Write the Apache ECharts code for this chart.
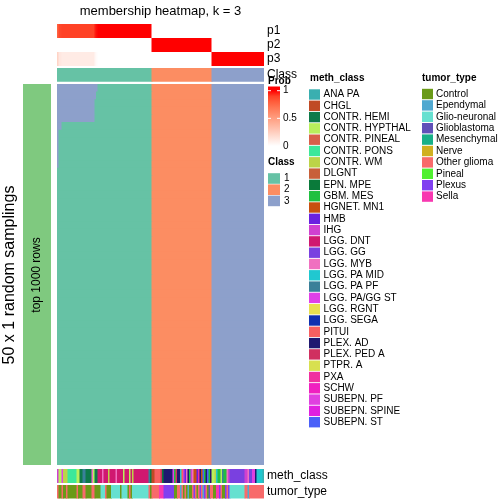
<!DOCTYPE html>
<html><head><meta charset="utf-8">
<script src="https://cdn.jsdelivr.net/npm/echarts@6/dist/echarts.min.js"></script>
<style>html,body{margin:0;padding:0;background:#fff}#c{width:504px;height:504px}</style>
</head><body><div id="c"></div>
<script>
// ---------------- data ----------------
const titleText = 'membership heatmap, k = 3';
const nSamplings = 50;
const classNames = ['1', '2', '3'];
const classColors = ['#66c2a5', '#fc8d62', '#8da0cb'];
const classCounts = [63, 40, 35];            // samples per consensus class (ordered)
// number of top samplings (rows) in which the first class-1 samples were put in class 3
const class3TopRows = [11, 6, 6, 5, 5, 5, 5, 5, 5, 5, 5, 5, 5, 5, 5, 5, 5, 5, 5, 5, 5, 5, 5, 5, 5, 2, 1];
const probLabels = ['p1', 'p2', 'p3'];
const probTicks = [1, 0.5, 0];
const probStops = ['#ffffff', '#ffebe5', '#ffd8cb', '#ffc4b2', '#ffb199', '#ff9e81', '#ff8a69', '#ff7552', '#ff5d3b', '#ff4226', '#ff0000'];

const methNames = ['ANA PA', 'CHGL', 'CONTR. HEMI', 'CONTR. HYPTHAL', 'CONTR. PINEAL', 'CONTR. PONS', 'CONTR. WM', 'DLGNT', 'EPN. MPE', 'GBM. MES', 'HGNET. MN1', 'HMB', 'IHG', 'LGG. DNT', 'LGG. GG', 'LGG. MYB', 'LGG. PA MID', 'LGG. PA PF', 'LGG. PA/GG ST', 'LGG. RGNT', 'LGG. SEGA', 'PITUI', 'PLEX. AD', 'PLEX. PED A', 'PTPR. A', 'PXA', 'SCHW', 'SUBEPN. PF', 'SUBEPN. SPINE', 'SUBEPN. ST'];
const methColors = ['#3aafb0', '#c04a25', '#0e7a4a', '#b8f05c', '#d8604a', '#3de89a', '#bcd448', '#c8603a', '#0a7a3a', '#20c040', '#c85010', '#6a20e0', '#d040d0', '#d01870', '#7a40e0', '#f070c0', '#20c8d0', '#3a8099', '#e040e8', '#e8e050', '#1030b0', '#f86060', '#201870', '#d03060', '#d8e050', '#f030a0', '#f020c0', '#e040e0', '#e020e0', '#4a60f8'];
const tumorNames = ['Control', 'Ependymal', 'Glio-neuronal', 'Glioblastoma', 'Mesenchymal', 'Nerve', 'Other glioma', 'Pineal', 'Plexus', 'Sella'];
const tumorColors = ['#6a9a18', '#50a8d0', '#66e0d0', '#6050b8', '#18b088', '#d0b020', '#f86a6a', '#50f030', '#8040f0', '#f838b0'];

// run-length lists of the bottom annotations, left to right
const methRuns = [
  ['IHG',1],['CONTR. HYPTHAL',2],['LGG. PA/GG ST',1],['CONTR. WM',3],['CONTR. PONS',6],['CONTR. HYPTHAL',2],['CONTR. HEMI',2],['LGG. PA PF',2],['CONTR. HEMI',4],['LGG. MYB',1],['CONTR. HYPTHAL',1],['CONTR. HEMI',2],['LGG. DNT',3],['LGG. MYB',1],['LGG. DNT',3],['CONTR. WM',1],['LGG. DNT',4],['LGG. MYB',1],['LGG. DNT',4],['CONTR. HYPTHAL',1],['LGG. DNT',3],['CONTR. HYPTHAL',1],['LGG. DNT',1],['CONTR. WM',1],['LGG. DNT',10],['LGG. PA PF',1],['CONTR. HEMI',1],
  ['CHGL',2],['PITUI',4],['PLEX. PED A',1],['EPN. MPE',1],['PLEX. AD',6],['LGG. PA/GG ST',1],['GBM. MES',1],['PLEX. PED A',1],['PLEX. AD',2],['LGG. PA MID',1],['PITUI',1],['IHG',1],['HMB',1],['LGG. MYB',1],['PLEX. AD',1],['GBM. MES',1],['IHG',1],['LGG. MYB',1],['HGNET. MN1',2],['HMB',1],['PXA',1],['PLEX. AD',1],['HGNET. MN1',1],['SUBEPN. ST',1],['GBM. MES',1],['PLEX. AD',1],['SUBEPN. ST',1],['GBM. MES',1],['PLEX. AD',1],
  ['CONTR. HYPTHAL',2],['CONTR. WM',1],['LGG. PA MID',1],['GBM. MES',2],['CONTR. HYPTHAL',1],['LGG. PA PF',1],['GBM. MES',2],['LGG. MYB',1],['IHG',1],['LGG. GG',10],['IHG',2],['LGG. MYB',1],['LGG. GG',2],['SUBEPN. PF',2],['PLEX. AD',1],['LGG. PA MID',4],['ANA PA',1]
];
const tumorRuns = [
  ['Other glioma',1],['Control',2],['Other glioma',1],['Control',2],['Other glioma',1],['Control',6],['Other glioma',1],['Control',3],['Other glioma',2],['Control',4],['Other glioma',2],['Control',4],['Glio-neuronal',3],['Other glioma',1],['Control',3],['Glio-neuronal',6],['Control',1],['Glio-neuronal',4],['Control',1],['Other glioma',1],['Control',1],['Glio-neuronal',11],['Other glioma',1],['Control',1],
  ['Other glioma',5],['Sella',3],['Plexus',7],['Control',2],['Other glioma',2],['Ependymal',1],['Other glioma',1],['Control',1],['Other glioma',1],['Control',1],['Ependymal',1],['Control',2],['Other glioma',1],['Plexus',1],['Other glioma',1],['Control',1],['Other glioma',1],['Plexus',1],['Other glioma',1],['Ependymal',1],['Plexus',1],['Other glioma',1],['Control',1],['Glioblastoma',1],['Other glioma',1],
  ['Other glioma',1],['Control',2],['Sella',2],['Plexus',1],['Other glioma',1],['Control',2],['Plexus',1],['Other glioma',1],['Plexus',1],['Glio-neuronal',10],['Other glioma',2],['Ependymal',1],['Other glioma',10]
];

// ---------------- derived tables ----------------
function expand(runs) { const o = []; runs.forEach(([n, c]) => { for (let j = 0; j < c; j++) o.push(n); }); return o; }
const sampleClass = [];
classCounts.forEach((c, k) => { for (let j = 0; j < c; j++) sampleClass.push(k + 1); });
const N = sampleClass.length;
const methPerSample = expand(methRuns);
const tumorPerSample = expand(tumorRuns);
const membership = []; // [row][sample]
for (let r = 0; r < nSamplings; r++) {
  const row = [];
  for (let i = 0; i < N; i++) row.push(i < class3TopRows.length && r < class3TopRows[i] ? 3 : sampleClass[i]);
  membership.push(row);
}
const probRows = [[], [], []];
for (let i = 0; i < N; i++) {
  for (let k = 1; k <= 3; k++) {
    let cnt = 0; for (let r = 0; r < nSamplings; r++) if (membership[r][i] === k) cnt++;
    probRows[k - 1].push(cnt / nSamplings);
  }
}
// merge equal neighbouring cells of a row into [startSample, endSample, row, value]
function runsOf(values, row) {
  const out = []; let s = 0;
  for (let i = 1; i <= values.length; i++) {
    if (i === values.length || values[i] !== values[s]) { out.push([s, i - 1, row, values[s]]); s = i; }
  }
  return out;
}
const probData = [].concat(...probRows.map((v, k) => runsOf(v, k)));
const classData = runsOf(sampleClass.map(c => c - 1), 0);
const mainData = [].concat(...membership.map((row, r) => runsOf(row.map(c => c - 1), r)));
const methData = runsOf(methPerSample.map(m => methNames.indexOf(m)), 0);
const tumorData = runsOf(tumorPerSample.map(t => tumorNames.indexOf(t)), 0);

// ---------------- chart ----------------
const FONT = '"Liberation Sans", Arial, Helvetica, sans-serif';
const xCats = Array.from({ length: N }, (_, i) => i);
const rowCats = Array.from({ length: nSamplings }, (_, i) => i);

function rectRender(colorFn) {
  return function (params, api) {
    const cs = params.coordSys;
    const a = api.coord([api.value(0), api.value(2)]);
    const b = api.coord([api.value(1), api.value(2)]);
    const s = api.size([1, 1]);
    const x0 = a[0] - s[0] / 2;
    const x1 = Math.min(b[0] + s[0] / 2 + 1, cs.x + cs.width);
    const y0 = a[1] - s[1] / 2;
    const y1 = Math.min(a[1] + s[1] / 2 + 1, cs.y + cs.height);
    return { type: 'rect', shape: { x: x0, y: y0, width: x1 - x0, height: y1 - y0 },
      style: { fill: colorFn(api) } };
  };
}
function cellSeries(idx, data, colorFn) {
  return { type: 'custom', xAxisIndex: idx, yAxisIndex: idx, data: data, renderItem: rectRender(colorFn),
    encode: { x: [0, 1], y: 2 }, progressive: 0, silent: true, animation: false };
}
const L = 57, W = 207;
const grids = [
  { left: L, top: 24, width: W, height: 42 },
  { left: L, top: 68, width: W, height: 13.7 },
  { left: L, top: 84, width: W, height: 381 },
  { left: L, top: 469, width: W, height: 14 },
  { left: L, top: 485, width: W, height: 13.5 },
  { left: 23, top: 84, width: 28, height: 381 }
];
const rightLabel = { show: true, interval: 0, margin: 3, fontSize: 12, color: '#000', fontFamily: FONT };
const xAxes = grids.map((g, i) => ({ type: 'category', gridIndex: i, data: i < 5 ? xCats : ['top 1000 rows'], show: false }));
const yAxes = [
  { type: 'category', gridIndex: 0, data: probLabels, inverse: true, position: 'right', axisLine: { show: false }, axisTick: { show: false }, axisLabel: rightLabel },
  { type: 'category', gridIndex: 1, data: ['Class'], position: 'right', axisLine: { show: false }, axisTick: { show: false }, axisLabel: rightLabel },
  { type: 'category', gridIndex: 2, data: rowCats, inverse: true, show: false },
  { type: 'category', gridIndex: 3, data: ['meth_class'], position: 'right', axisLine: { show: false }, axisTick: { show: false }, axisLabel: rightLabel },
  { type: 'category', gridIndex: 4, data: ['tumor_type'], position: 'right', axisLine: { show: false }, axisTick: { show: false }, axisLabel: rightLabel },
  { type: 'category', gridIndex: 5, data: [0], show: false }
];
const series = [
  cellSeries(0, probData, api => api.visual('color')),
  cellSeries(1, classData, api => classColors[api.value(3)]),
  cellSeries(2, mainData, api => classColors[api.value(3)]),
  cellSeries(3, methData, api => methColors[api.value(3)]),
  cellSeries(4, tumorData, api => tumorColors[api.value(3)]),
  cellSeries(5, [[0, 0, 0, 0]], () => '#7fc97f')
];

// legends (graphics)
const gfx = [];
function txt(x, y, s, o) {
  gfx.push(Object.assign({ type: 'text', x: x, y: y, silent: true, z: 10,
    style: Object.assign({ text: s, fontFamily: FONT, fontSize: 10, fill: '#000', textAlign: 'left', textVerticalAlign: 'middle' }, o || {}) }));
}
function box(x, y, w, h, fill) { gfx.push({ type: 'rect', shape: { x: x, y: y, width: w, height: h }, style: { fill: fill }, silent: true, z: 10 }); }
txt(160.5, 11, titleText, { fontSize: 13, textAlign: 'center' });
gfx.push({ type: 'text', x: 10, y: 275, rotation: Math.PI / 2, silent: true,
  style: { text: '50 x 1 random samplings', fontFamily: FONT, fontSize: 16, fill: '#000', textAlign: 'center', textVerticalAlign: 'middle' } });
gfx.push({ type: 'text', x: 37, y: 275, rotation: Math.PI / 2, silent: true, z: 10,
  style: { text: 'top 1000 rows', fontFamily: FONT, fontSize: 12, fill: '#000', textAlign: 'center', textVerticalAlign: 'middle' } });

// Prob colour bar
const barTop = 86.5, barH = 60, v1y = 90.7, v0y = 146;
const gradStops = [{ offset: 0, color: probStops[probStops.length - 1] }];
probStops.forEach((c, j) => {
  const v = j / (probStops.length - 1);
  const y = v0y - v * (v0y - v1y);
  gradStops.push({ offset: Math.min(1, Math.max(0, (y - barTop) / barH)), color: c });
});
gradStops.sort((a, b) => a.offset - b.offset);
gfx.push({ type: 'rect', shape: { x: 268, y: barTop, width: 12, height: barH }, silent: true, z: 10,
  style: { fill: new echarts.graphic.LinearGradient(0, 0, 0, 1, gradStops) } });
probTicks.forEach(v => {
  const y = v0y - v * (v0y - v1y);
  txt(283, y, String(v));
  if (v > 0) {
    gfx.push({ type: 'line', shape: { x1: 268, y1: y, x2: 271, y2: y }, style: { stroke: '#fff', lineWidth: 1 }, silent: true, z: 11 });
    gfx.push({ type: 'line', shape: { x1: 277, y1: y, x2: 280, y2: y }, style: { stroke: '#fff', lineWidth: 1 }, silent: true, z: 11 });
  }
});
txt(268, 81, 'Prob', { fontWeight: 'bold' });
// Class legend
txt(268, 162.7, 'Class', { fontWeight: 'bold' });
classNames.forEach((n, j) => { const cy = 178.5 + j * 11.2; box(268, cy - 5.3, 12, 10.6, classColors[j]); txt(284, cy, n); });
// meth_class legend
txt(310, 78, 'meth_class', { fontWeight: 'bold' });
methNames.forEach((n, j) => { const cy = 94.5 + j * 11.3; box(309, cy - 5.2, 11, 10.4, methColors[j]); txt(323.5, cy, n); });
// tumor_type legend
txt(422, 78.5, 'tumor_type', { fontWeight: 'bold' });
tumorNames.forEach((n, j) => { const cy = 94 + j * 11.4; box(422, cy - 5.2, 11, 10.4, tumorColors[j]); txt(436, cy, n); });

const chart = echarts.init(document.getElementById('c'), null, { renderer: 'canvas' });
chart.setOption({
  animation: false,
  backgroundColor: '#fff',
  grid: grids,
  xAxis: xAxes,
  yAxis: yAxes,
  visualMap: [{ show: false, type: 'continuous', seriesIndex: 0, dimension: 3, min: 0, max: 1, inRange: { color: probStops } }],
  series: series,
  graphic: gfx
});
</script></body></html>
